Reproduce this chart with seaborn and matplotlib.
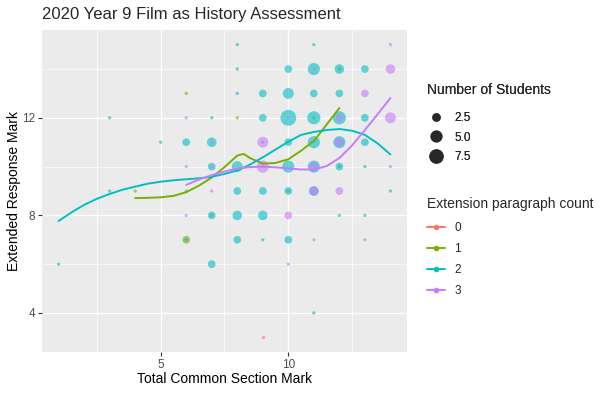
import numpy as np
import pandas as pd
import matplotlib.pyplot as plt
from matplotlib.lines import Line2D
from matplotlib.ticker import MultipleLocator
import seaborn as sns

sns.set_theme(style="darkgrid")
plt.rcParams["font.family"] = ["Liberation Sans", "DejaVu Sans"]

# counted students per (common mark, extended mark), one set of lists per paragraph group
g0_x = [9]
g0_y = [3]
g0_n = [1]

g1_x = [4, 6, 6, 8, 12, 7, 10, 12, 11]
g1_y = [9, 13, 7, 12, 14, 8, 9, 10, 12]
g1_n = [1, 1, 2, 1, 1, 1, 1, 1, 1]

g2_x = [8, 11,
        8, 10, 11, 12, 13,
        8, 9, 10, 11, 12,
        3, 7, 9, 10, 11, 12, 13,
        5, 6, 7, 9, 10, 11, 12, 13,
        7, 8, 9, 10, 11, 12, 13,
        3, 6, 8, 9, 10, 11, 14,
        7, 8, 9, 12, 13,
        6, 8, 9, 10,
        1, 7,
        11]
g2_y = [15, 15,
        14, 14, 14, 14, 14,
        13, 13, 13, 13, 13,
        12, 12, 12, 12, 12, 12, 12,
        11, 11, 11, 11, 11, 11, 11, 11,
        10, 10, 10, 10, 10, 10, 10,
        9, 9, 9, 9, 9, 9, 9,
        8, 8, 8, 8, 8,
        7, 7, 7, 7,
        6, 6,
        4]
g2_n = [1, 1,
        1, 2, 5, 3, 2,
        1, 2, 4, 2, 2,
        1, 1, 2, 9, 6, 6, 2,
        1, 2, 3, 1, 2, 5, 5, 2,
        2, 4, 1, 5, 5, 2, 1,
        1, 1, 2, 2, 2, 3, 1,
        2, 3, 3, 1, 1,
        1, 2, 1, 2,
        1, 2,
        1]

g3_x = [14, 11, 14, 13, 6, 10, 12, 14, 7, 9, 12, 6, 7, 9, 11, 14, 7, 11, 12, 6, 10, 11, 13, 10]
g3_y = [15, 14, 14, 13, 12, 12, 12, 12, 11, 11, 11, 10, 10, 10, 10, 10, 9, 9, 9, 8, 8, 7, 7, 6]
g3_n = [1, 1, 3, 2, 1, 1, 2, 4, 1, 4, 3, 1, 1, 5, 3, 1, 1, 3, 2, 1, 2, 1, 1, 1]

# smoothed trend per group
g1_curve_x = [4, 4.5, 5, 5.5, 6, 6.5, 7, 7.5, 8, 8.25, 8.5, 9, 9.5, 10, 10.5, 11, 11.5, 12]
g1_curve_y = [8.71, 8.72, 8.74, 8.8, 8.95, 9.22, 9.55, 9.98, 10.45, 10.52, 10.35, 10.12, 10.15,
              10.3, 10.65, 11.05, 11.72, 12.4]
g2_curve_x = [1, 1.5, 2, 2.5, 3, 3.5, 4, 4.5, 5, 5.5, 6, 6.5, 7, 7.5, 8, 8.5, 9, 9.5, 10,
              10.5, 11, 11.5, 12, 12.5, 13, 13.5, 14]
g2_curve_y = [7.77, 8.12, 8.43, 8.68, 8.88, 9.05, 9.18, 9.3, 9.38, 9.44, 9.48, 9.52, 9.58, 9.7,
              9.84, 10.08, 10.38, 10.7, 11.02, 11.3, 11.42, 11.5, 11.54, 11.47, 11.3, 10.95, 10.5]
g3_curve_x = [6, 6.5, 7, 7.5, 8, 8.5, 9, 9.5, 10, 10.5, 11, 11.5, 12, 12.5, 13, 13.5, 14]
g3_curve_y = [9.25, 9.47, 9.65, 9.8, 9.92, 9.98, 10.0, 9.97, 9.93, 9.88, 9.88, 10.02, 10.35,
              10.87, 11.5, 12.15, 12.81]

groups = ["0", "1", "2", "3"]
palette = {"0": "#F8766D", "1": "#7CAE00", "2": "#00BFC4", "3": "#C77CFF"}

frames = []
for g, xs, ys, ns in [("0", g0_x, g0_y, g0_n), ("1", g1_x, g1_y, g1_n),
                      ("2", g2_x, g2_y, g2_n), ("3", g3_x, g3_y, g3_n)]:
    frames.append(pd.DataFrame({"common": xs, "extended": ys, "group": g, "n": ns}))
df = pd.concat(frames, ignore_index=True)

n_min, n_max = df["n"].min(), df["n"].max()


def diam_pt(n):
    # ggplot-like area scale, pixel diameter converted to points at dpi 100
    d_px = 2.5 * (1 + 5 * np.sqrt((n - n_min) / (n_max - n_min))) + 0.8
    return d_px * 0.72


sizes = {n: diam_pt(n) ** 2 for n in sorted(df["n"].unique())}

fig = plt.figure(figsize=(6.02, 3.94), dpi=100)
ax = fig.add_axes([42 / 602, 1 - 352 / 394, (407 - 42) / 602, (352 - 30) / 394])
ax.set_facecolor("#EBEBEB")

for g in groups:
    sub = df[df["group"] == g]
    sns.scatterplot(data=sub, x="common", y="extended", size="n", sizes=sizes,
                    color=palette[g], alpha=0.6, linewidth=0, legend=False, ax=ax)

for g, cx, cy in [("1", g1_curve_x, g1_curve_y), ("2", g2_curve_x, g2_curve_y),
                  ("3", g3_curve_x, g3_curve_y)]:
    sns.lineplot(x=cx, y=cy, color=palette[g], linewidth=1.4, estimator=None, ax=ax)

ax.set_xlim(0.35, 14.65)
ax.set_ylim(2.4, 15.6)
ax.set_xticks([5, 10])
ax.set_yticks([4, 8, 12])
ax.xaxis.set_minor_locator(MultipleLocator(2.5))
ax.yaxis.set_minor_locator(MultipleLocator(2))
ax.grid(which="major", color="white", linewidth=1.0)
ax.grid(which="minor", color="white", linewidth=0.5)
ax.tick_params(which="major", bottom=True, left=True, length=3, width=0.8, color="#333333",
               labelsize=8.5, labelcolor="#4D4D4D", pad=2)
ax.tick_params(which="minor", length=0)
for s in ax.spines.values():
    s.set_visible(False)

ax.set_xlabel("Total Common Section Mark", fontsize=10, color="black", labelpad=1)
ax.set_ylabel("Extended Response Mark", fontsize=10, color="black", va="center")
ax.yaxis.set_label_coords((14 - 42) / 365, 0.5)
fig.text(42 / 602, 1 - 15 / 394, "2020 Year 9 Film as History Assessment", fontsize=12,
         ha="left", va="center")

size_handles = [Line2D([], [], ls="", marker="o", markersize=diam_pt(v), markerfacecolor="black",
                       markeredgewidth=0, alpha=0.6) for v in [2.5, 5.0, 7.5]]
leg1 = fig.legend(size_handles, ["2.5", "5.0", "7.5"], title="Number of Students",
                  loc="upper left", bbox_to_anchor=(427 / 602, 1 - 83 / 394), frameon=False,
                  alignment="left", fontsize=8.5, title_fontsize=10, handlelength=1.5,
                  labelspacing=0.62, handletextpad=0.8, borderaxespad=0, borderpad=0)
leg1._legend_box.sep = 11
color_handles = [Line2D([], [], color=palette[g], linewidth=1.4, marker="o", markersize=3)
                 for g in groups]
leg2 = fig.legend(color_handles, groups, title="Extension paragraph count",
                  loc="upper left", bbox_to_anchor=(427 / 602, 1 - 197 / 394), frameon=False,
                  alignment="left", fontsize=8.5, title_fontsize=10, handlelength=1.5,
                  labelspacing=0.76, handletextpad=0.8, borderaxespad=0, borderpad=0)
leg2._legend_box.sep = 8
fig.add_artist(leg1)

fig.savefig("out.png", dpi=100)
